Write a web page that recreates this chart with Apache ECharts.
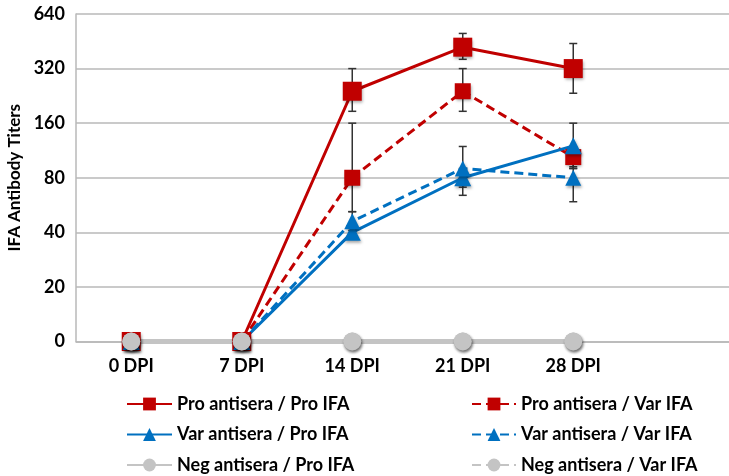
<!DOCTYPE html>
<html>
<head>
<meta charset="utf-8">
<script src="https://cdn.jsdelivr.net/npm/echarts@6/dist/echarts.min.js"></script>
<style>html,body{margin:0;padding:0;background:#fff;}#c{width:729px;height:476px;}</style>
</head>
<body>
<div id="c"></div>
<script>
const categories = ['0 DPI', '7 DPI', '14 DPI', '21 DPI', '28 DPI'];
const yTickLabels = ['0', '20', '40', '80', '160', '320', '640'];

const proPro = [0, 0, 240, 420, 320];
const proProLow = [null, null, 186, 360, 234];
const proProHigh = [null, null, 320, 500, 440];

const proVar = [0, 0, 80, 240, 104];
const proVarLow = [null, null, 52, 186, 90];
const proVarHigh = [null, null, 160, 320, 118];

const varPro = [0, 0, 40, 80, 120];
const varProLow = [null, null, 37, 71, 90];
const varProHigh = [null, null, 44, 90, 160];

const varVar = [0, 0, 46, 90, 80];
const varVarLow = [null, null, 41, 64, 59];
const varVarHigh = [null, null, 52, 119, 92];

const negPro = [0, 0, 0, 0, 0];
const negVar = [0, 0, 0, 0, 0];

const RED = '#c00000', BLUE = '#0070c0', GRAY = '#c4c4c4';
const FONT = 'Lato';

// titer -> position on the log2 scale (0 drawn at the bottom tick)
function t(v) { return v <= 0 ? 0 : Math.log2(v / 10); }

const shadow = { shadowColor: 'rgba(0,0,0,0.35)', shadowBlur: 3, shadowOffsetX: 1, shadowOffsetY: 2 };

function lineSeries(name, values, color, dashed, symbol, size, width) {
  return {
    name: name, type: 'line', z: 3,
    data: values.map(t),
    symbol: symbol, symbolSize: size,
    lineStyle: { color: color, width: width, type: dashed ? [9, 5] : 'solid' },
    itemStyle: Object.assign({ color: color }, shadow),
    emphasis: { disabled: true }
  };
}

function errSeries(low, high) {
  const data = [];
  low.forEach(function (l, i) {
    if (l != null && high[i] != null) data.push([i, t(l), t(high[i])]);
  });
  return {
    type: 'custom', z: 2, silent: true,
    data: data,
    renderItem: function (params, api) {
      const x = api.value(0);
      const p1 = api.coord([x, api.value(1)]);
      const p2 = api.coord([x, api.value(2)]);
      const w = 4;
      const st = { stroke: '#333', lineWidth: 1.5 };
      return {
        type: 'group',
        children: [
          { type: 'line', shape: { x1: p1[0], y1: p1[1], x2: p2[0], y2: p2[1] }, style: st },
          { type: 'line', shape: { x1: p1[0] - w, y1: p1[1], x2: p1[0] + w, y2: p1[1] }, style: st },
          { type: 'line', shape: { x1: p2[0] - w, y1: p2[1], x2: p2[0] + w, y2: p2[1] }, style: st }
        ]
      };
    }
  };
}

const chart = echarts.init(document.getElementById('c'));
const legendText = { fontFamily: FONT, fontWeight: 'bold', fontSize: 18, color: '#000' };

chart.setOption({
  animation: false,
  grid: { left: 76, top: 14, width: 663, height: 327.5, containLabel: false, outerBoundsMode: 'none' },
  xAxis: {
    type: 'category', data: categories.concat(['']), boundaryGap: true,
    axisTick: { show: false },
    axisLine: { show: true, lineStyle: { color: '#b8b8b8', width: 1.5 } },
    axisLabel: { fontFamily: FONT, fontWeight: 'bold', fontSize: 18, color: '#000', margin: 16 },
    splitLine: { show: false }
  },
  yAxis: {
    type: 'value', min: 0, max: 6, interval: 1,
    name: 'IFA Antibody Titers', nameLocation: 'middle', nameGap: 47, nameRotate: 90,
    nameTextStyle: { fontFamily: FONT, fontWeight: 'bold', fontSize: 17, color: '#000' },
    axisLine: { show: true, lineStyle: { color: '#b8b8b8', width: 1.5 } },
    axisTick: { show: false },
    axisLabel: { fontFamily: FONT, fontWeight: 'bold', fontSize: 18, color: '#000', margin: 11,
      formatter: function (v) { return yTickLabels[v]; } },
    splitLine: { show: true, lineStyle: { color: '#b8b8b8', width: 1.5 } }
  },
  legend: [
    { orient: 'vertical', left: 126, top: 395, padding: 0, height: 90, itemWidth: 45, itemHeight: 16, itemGap: 12.5,
      textStyle: legendText, itemStyle: { shadowBlur: 0, shadowOffsetX: 0, shadowOffsetY: 0 },
      data: ['Pro antisera / Pro IFA', 'Var antisera / Pro IFA', 'Neg antisera / Pro IFA'] },
    { orient: 'vertical', left: 471, top: 395, padding: 0, height: 90, itemWidth: 44, itemHeight: 16, itemGap: 12.5,
      textStyle: legendText, itemStyle: { shadowBlur: 0, shadowOffsetX: 0, shadowOffsetY: 0 },
      data: ['Pro antisera / Var IFA', 'Var antisera / Var IFA', 'Neg antisera / Var IFA'] }
  ],
  series: [
    errSeries(proProLow, proProHigh),
    errSeries(proVarLow, proVarHigh),
    errSeries(varProLow, varProHigh),
    errSeries(varVarLow, varVarHigh),
    lineSeries('Pro antisera / Pro IFA', proPro, RED, false, 'rect', 19, 3),
    lineSeries('Pro antisera / Var IFA', proVar, RED, true, 'rect', 16, 3),
    lineSeries('Var antisera / Pro IFA', varPro, BLUE, false, 'triangle', 17, 3),
    lineSeries('Var antisera / Var IFA', varVar, BLUE, true, 'triangle', 16, 3),
    lineSeries('Neg antisera / Pro IFA', negPro, GRAY, false, 'circle', 18, 5),
    lineSeries('Neg antisera / Var IFA', negVar, GRAY, true, 'circle', 18, 5)
  ]
});
</script>
</body>
</html>
